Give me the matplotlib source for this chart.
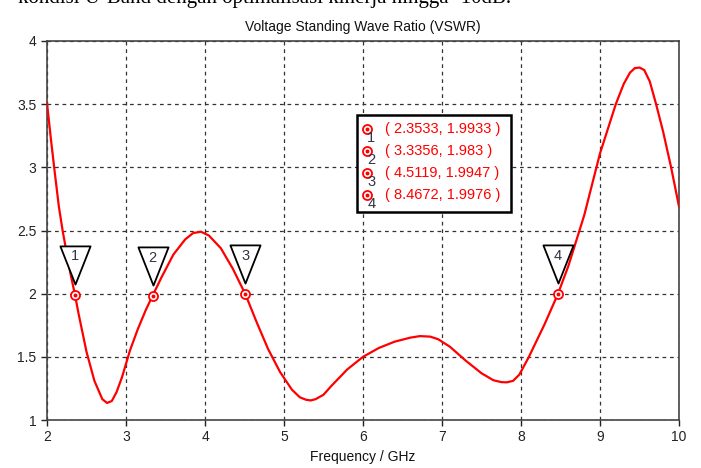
import matplotlib
matplotlib.use('Agg')
import matplotlib.pyplot as plt
from matplotlib.patches import Rectangle
from matplotlib.path import Path
from matplotlib.transforms import offset_copy

# Data kurva VSWR
freq = [2.0, 2.05, 2.1, 2.15, 2.2, 2.25, 2.3, 2.3533, 2.4, 2.5, 2.6, 2.7, 2.76, 2.82, 2.88,
        2.95, 3.05, 3.15, 3.25, 3.3356, 3.45, 3.6, 3.75, 3.85, 3.95, 4.05, 4.2, 4.35, 4.5119,
        4.65, 4.8, 4.95, 5.1, 5.2, 5.28, 5.34, 5.4, 5.5, 5.6, 5.8, 6.0, 6.2, 6.4, 6.6, 6.72,
        6.85, 6.95, 7.1, 7.3, 7.5, 7.65, 7.75, 7.82, 7.9, 7.98, 8.1, 8.3, 8.4672, 8.6, 8.8,
        9.0, 9.2, 9.3, 9.38, 9.44, 9.5, 9.56, 9.63, 9.71, 9.8, 9.9, 10.0]
vswr = [3.51, 3.22, 2.95, 2.69, 2.49, 2.32, 2.15, 1.9933, 1.84, 1.54, 1.31, 1.165, 1.135, 1.15,
        1.22, 1.34, 1.55, 1.72, 1.87, 1.983, 2.13, 2.31, 2.43, 2.48, 2.49, 2.46, 2.36, 2.2, 1.9947,
        1.78, 1.56, 1.38, 1.24, 1.18, 1.16, 1.155, 1.165, 1.2, 1.27, 1.4, 1.5, 1.57, 1.62, 1.652,
        1.664, 1.66, 1.64, 1.58, 1.47, 1.37, 1.315, 1.3, 1.298, 1.31, 1.36, 1.5, 1.76, 1.9976,
        2.22, 2.62, 3.11, 3.5, 3.66, 3.75, 3.785, 3.79, 3.77, 3.68, 3.5, 3.28, 3.0, 2.69]

# Marker
mk_x = [2.3533, 3.3356, 4.5119, 8.4672]
mk_y = [1.9933, 1.983, 1.9947, 1.9976]
mk_labels = ['( 2.3533, 1.9933 )', '( 3.3356, 1.983 )', '( 4.5119, 1.9947 )', '( 8.4672, 1.9976 )']

x_ticks = [2, 3, 4, 5, 6, 7, 8, 9, 10]
y_ticks = [1, 1.5, 2, 2.5, 3, 3.5, 4]
y_tick_labels = ['1', '1.5', '2', '2.5', '3', '3.5', '4']

plt.rcParams['font.family'] = ['Liberation Sans', 'DejaVu Sans']

fig = plt.figure(figsize=(7.01, 4.68), dpi=100)
ax = fig.add_axes([47 / 701, 48 / 468, 632 / 701, 379 / 468])

# potongan teks dokumen di atas gambar (w oryginale uciety u gory)
fig.text(0.026, 1.003, 'kondisi U-Band dengan optimalisasi kinerja hingga -10dB.',
         family='Liberation Serif', fontsize=15, va='center', ha='left')

ax.plot(freq, vswr, color='red', lw=1.6, zorder=3)

ax.set_xlim(2, 10)
ax.set_ylim(1, 4)
ax.set_xticks(x_ticks)
ax.set_yticks(y_ticks)
ax.set_yticklabels(y_tick_labels)
ax.tick_params(direction='out', length=4, width=1, labelsize=10, colors='#222222',
               top=False, right=False)
ax.grid(True, color='#333333', linestyle=(0, (3, 3)), lw=0.9)
for s in ax.spines.values():
    s.set_color('#444444')
    s.set_linewidth(1.2)

ax.set_title('Voltage Standing Wave Ratio (VSWR)', fontsize=10, color='#111111', pad=7)
ax.set_xlabel('Frequency / GHz', fontsize=10, color='#111111', labelpad=4)

# trojkaty z numerami
tri = Path([(-15, 19), (15, 19), (0, -19), (-15, 19)],
           [Path.MOVETO, Path.LINETO, Path.LINETO, Path.CLOSEPOLY])
tri_trans = offset_copy(ax.transData, fig=fig, y=21.6, units='points')
num_trans = offset_copy(ax.transData, fig=fig, y=27.5, units='points')
for i in range(len(mk_x)):
    ax.plot(mk_x[i], mk_y[i], marker=tri, markersize=27.5, markerfacecolor='white',
            markeredgecolor='black', markeredgewidth=1.3, transform=tri_trans, zorder=4)
    ax.text(mk_x[i], mk_y[i], str(i + 1), transform=num_trans, ha='center', va='center',
            fontsize=10.5, color='#333344', zorder=5)

ax.plot(mk_x, mk_y, 'o', markersize=6.5, markerfacecolor='white', markeredgecolor='red',
        markeredgewidth=1.3, zorder=5)
ax.plot(mk_x, mk_y, 'o', markersize=1.8, color='red', zorder=6)

# okienko z wartosciami markerow
box = Rectangle((0.4905, 0.549), 0.2435, 0.256, transform=ax.transAxes, facecolor='white',
                edgecolor='black', lw=1.8, zorder=7)
ax.add_patch(box)
for i in range(len(mk_labels)):
    yy = 0.768 - i * 0.058
    ax.plot(0.506, yy, 'o', transform=ax.transAxes, markersize=6.5, markerfacecolor='white',
            markeredgecolor='red', markeredgewidth=1.3, zorder=8, clip_on=False)
    ax.plot(0.506, yy, 'o', transform=ax.transAxes, markersize=1.8, color='red', zorder=9,
            clip_on=False)
    ax.text(0.513, yy - 0.025, str(i + 1), transform=ax.transAxes, fontsize=10.5,
            color='#333344', ha='center', va='center', zorder=9)
    ax.text(0.535, yy, mk_labels[i], transform=ax.transAxes, fontsize=10.5, color='red',
            ha='left', va='center', zorder=9)

fig.savefig('out.png', dpi=100)
